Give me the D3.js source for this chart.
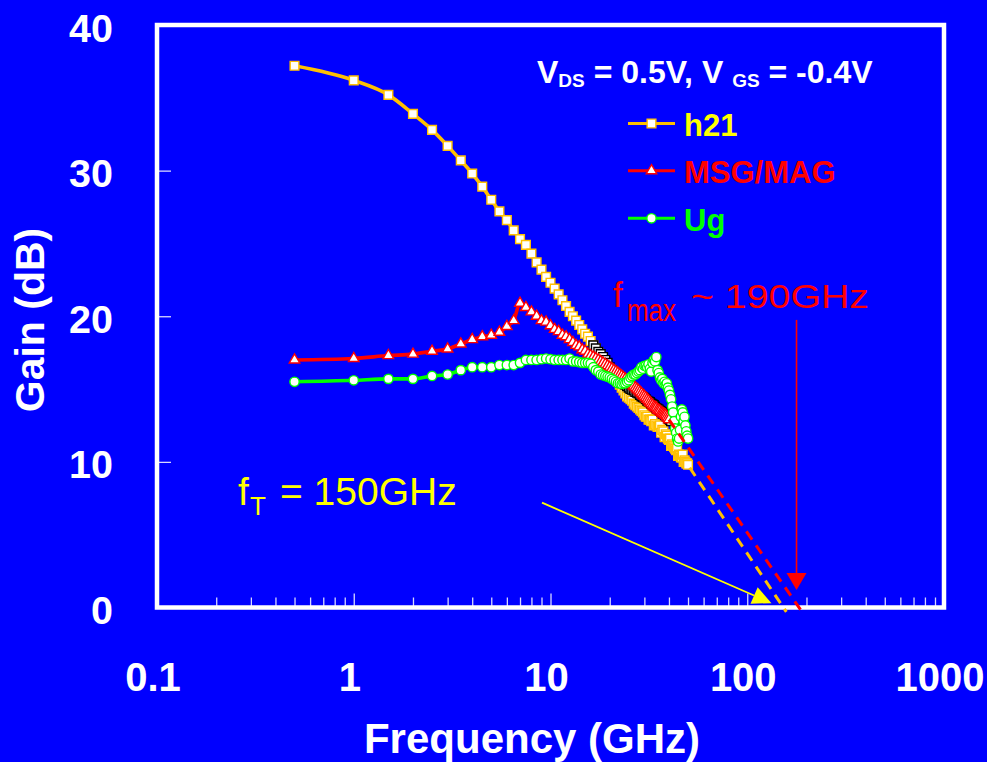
<!DOCTYPE html>
<html>
<head>
<meta charset="utf-8">
<script src="https://cdn.jsdelivr.net/npm/d3@7"></script>
<style>
  html, body { margin: 0; padding: 0; background: #0000ff; overflow: hidden; }
  svg { display: block; }
  text { font-family: "Liberation Sans", Arial, Helvetica, sans-serif; }
</style>
</head>
<body>
<svg id="chart" width="987" height="762"></svg>
<script>
// ---- measured data: frequency sweep 0.5 – 50 GHz in 0.5 GHz steps ----
const freqGHz = [
  0.5, 1, 1.5, 2, 2.5, 3, 3.5, 4, 4.5, 5,
  5.5, 6, 6.5, 7, 7.5, 8, 8.5, 9, 9.5, 10,
  10.5, 11, 11.5, 12, 12.5, 13, 13.5, 14, 14.5, 15,
  15.5, 16, 16.5, 17, 17.5, 18, 18.5, 19, 19.5, 20,
  20.5, 21, 21.5, 22, 22.5, 23, 23.5, 24, 24.5, 25,
  25.5, 26, 26.5, 27, 27.5, 28, 28.5, 29, 29.5, 30,
  30.5, 31, 31.5, 32, 32.5, 33, 33.5, 34, 34.5, 35,
  35.5, 36, 36.5, 37, 37.5, 38, 38.5, 39, 39.5, 40,
  40.5, 41, 41.5, 42, 42.5, 43, 43.5, 44, 44.5, 45,
  45.5, 46, 46.5, 47, 47.5, 48, 48.5, 49, 49.5, 50
];

// |h21| current gain (dB)
const h21Gain = [
  37.2, 36.2, 35.2, 33.9, 32.8, 31.7, 30.7, 29.8, 28.9, 28.0,
  27.2, 26.6, 25.9, 25.3, 24.9, 24.3, 23.7, 23.2, 22.7, 22.3,
  21.9, 21.5, 21.1, 20.7, 20.3, 20.0, 19.7, 19.4, 19.1, 18.8,
  18.6, 18.3, 18.0, 17.8, 17.5, 17.2, 17.0, 16.7, 16.5, 16.3,
  16.1, 15.9, 15.7, 15.5, 15.3, 15.1, 14.9, 14.7, 14.5, 14.4,
  14.3, 14.2, 14.0, 13.9, 13.8, 13.7, 13.6, 13.5, 13.4, 13.2,
  13.1, 13.1, 12.9, 12.9, 12.8, 12.9, 12.5, 12.6, 12.5, 12.4,
  12.4, 12.5, 12.0, 12.2, 12.1, 11.7, 11.9, 11.8, 11.6, 11.5,
  11.6, 11.1, 11.2, 11.1, 11.0, 10.9, 10.8, 10.9, 10.4, 10.5,
  10.4, 10.3, 10.3, 10.5, 10.0, 10.1, 10.0, 9.9, 9.9, 9.8
];

// MSG / MAG (dB), 0.5 – 40 GHz
const msgGain = [
  17.0, 17.1, 17.3, 17.4, 17.6, 17.75, 18.1, 18.4, 18.6, 18.7,
  18.9, 19.3, 19.7, 20.9, 20.6, 20.3, 20.0, 19.7, 19.6, 19.35,
  19.1, 18.95, 18.7, 18.6, 18.4, 18.2, 18.0, 17.9, 17.7, 17.6,
  17.4, 17.3, 17.2, 17.1, 17.0, 16.9, 16.8, 16.7, 16.6, 16.5,
  16.4, 16.3, 16.2, 16.1, 16.0, 15.9, 15.8, 15.7, 15.6, 15.5,
  15.4, 15.3, 15.2, 15.1, 15.0, 14.9, 14.8, 14.7, 14.6, 14.5,
  14.4, 14.3, 14.2, 14.1, 14.0, 13.9, 13.8, 13.75, 13.7, 13.6,
  13.55, 13.5, 13.4, 13.35, 13.3, 13.25, 13.2, 13.1, 13.0, 12.9
];

// Unilateral gain Ug (dB)
const ugGain = [
  15.5, 15.6, 15.7, 15.7, 15.9, 16.0, 16.3, 16.5, 16.5, 16.5,
  16.65, 16.65, 16.65, 16.8, 17.0, 17.0, 17.0, 17.05, 17.1, 17.05,
  17.0, 17.0, 17.0, 17.0, 17.1, 16.9, 16.9, 16.85, 16.8, 16.8,
  16.8, 16.75, 16.5, 16.3, 16.2, 16.0, 15.95, 15.9, 15.85, 15.8,
  15.7, 15.6, 15.5, 15.4, 15.4, 15.35, 15.4, 15.4, 15.5, 15.6,
  15.8, 15.9, 16.0, 16.0, 16.1, 16.2, 16.3, 16.5, 16.4, 16.6,
  16.6, 16.5, 16.7, 16.4, 16.2, 16.8, 17.0, 16.9, 17.2, 16.3,
  16.1, 15.8, 15.6, 15.7, 15.4, 15.5, 15.3, 15.4, 15.1, 14.9,
  14.6, 14.3, 13.8, 13.4, 12.8, 12.3, 12.0, 11.6, 11.4, 11.6,
  12.2, 13.1, 13.6, 13.4, 12.8, 13.1, 12.5, 12.1, 11.8, 11.6
];

// second gain trace (black-edged markers), 16.5 – 41 GHz
const auxStartGHz = 16.5;
const auxGain = [
  18.0, 17.8, 17.55, 17.4, 17.2, 17.0, 16.8, 16.5, 16.3, 16.1,
  16.0, 15.8, 15.7, 15.55, 15.4, 15.3, 15.2, 15.1, 15.0, 14.95,
  14.9, 14.8, 14.75, 14.7, 14.6, 14.5, 14.45, 14.4, 14.3, 14.2,
  14.15, 14.1, 14.0, 13.95, 13.9, 13.8, 13.7, 13.65, 13.6, 13.5,
  13.45, 13.4, 13.3, 13.25, 13.2, 13.1, 13.0, 12.95, 12.9, 12.8
];

// -20 dB/dec extrapolations to 0 dB (freq GHz, gain dB)
const ftExtrapFreq = [51, 158];
const ftExtrapGain = [9.6, -0.3];
const fmaxExtrapFreq = [40, 190];
const fmaxExtrapGain = [12.9, -0.3];

// annotation arrows (freq GHz, gain dB)
const ftArrowFreq = [9.05, 132.8];
const ftArrowGain = [7.2, 0.3];
const fmaxArrowFreq = [178, 178];
const fmaxArrowGain = [19.75, 1.2];

// axes
const xTickValues = [0.1, 1, 10, 100, 1000];
const xTickLabels = ["0.1", "1", "10", "100", "1000"];
const yTickValues = [0, 10, 20, 30, 40];
const yTickLabels = ["0", "10", "20", "30", "40"];

const legendNames = ["h21", "MSG/MAG", "Ug"];

// ---- drawing ----
const W = 987, H = 762;
const plotLeft = 157, plotRight = 944, plotTop = 25, plotBottom = 607.5;

const COL_H21 = "#ffc000", COL_H21_TEXT = "#ffff00";
const COL_MSG = "#ff0000";
const COL_UG = "#00ff00";

const svg = d3.select("#chart");
svg.append("rect").attr("width", W).attr("height", H).attr("fill", "#0000ff");

const x = d3.scaleLog().domain([0.1, 1000]).range([plotLeft, plotRight]);
const y = d3.scaleLinear().domain([0, 40]).range([plotBottom, plotTop]);

// minor ticks along the bottom (pointing up, inside the frame)
const minorTicks = x.ticks().filter(t => !xTickValues.some(v => Math.abs(t / v - 1) < 1e-6));
svg.append("g")
  .attr("transform", `translate(0,${plotBottom})`)
  .call(d3.axisTop(x).tickValues(minorTicks).tickSize(10).tickFormat(""))
  .call(g => g.select(".domain").remove())
  .call(g => g.selectAll("line").attr("stroke", "#d8d8ff").attr("stroke-width", 1.3));
svg.append("g")
  .attr("transform", `translate(0,${plotBottom})`)
  .call(d3.axisTop(x).tickValues(xTickValues).tickSize(14).tickFormat(""))
  .call(g => g.select(".domain").remove())
  .call(g => g.selectAll("line").attr("stroke", "#d8d8ff").attr("stroke-width", 1.3));

// y ticks on the left edge (pointing right)
svg.append("g")
  .attr("transform", `translate(${plotLeft},0)`)
  .call(d3.axisRight(y).tickValues(yTickValues).tickSize(14).tickFormat(""))
  .call(g => g.select(".domain").remove())
  .call(g => g.selectAll("line").attr("stroke", "#d8d8ff").attr("stroke-width", 1.3));

// frame
svg.append("rect")
  .attr("x", plotLeft).attr("y", plotTop)
  .attr("width", plotRight - plotLeft).attr("height", plotBottom - plotTop)
  .attr("fill", "none").attr("stroke", "#ffffff").attr("stroke-width", 4.5);

// tick labels
svg.append("g").selectAll("text").data(xTickValues).join("text")
  .attr("x", d => x(d) - 4).attr("y", 691)
  .attr("text-anchor", "middle").attr("fill", "#fff")
  .attr("font-size", 40).attr("font-weight", "bold")
  .text((d, i) => xTickLabels[i]);

svg.append("g").selectAll("text").data(yTickValues).join("text")
  .attr("x", 113).attr("y", d => y(d) + 16.5)
  .attr("text-anchor", "end").attr("fill", "#fff")
  .attr("font-size", 39.5).attr("font-weight", "bold")
  .text((d, i) => yTickLabels[i]);

// axis titles
svg.append("text").attr("x", 532).attr("y", 753)
  .attr("text-anchor", "middle").attr("fill", "#fff")
  .attr("font-size", 42).attr("font-weight", "bold")
  .text("Frequency (GHz)");
svg.append("text").attr("transform", "translate(44,320) rotate(-90)")
  .attr("text-anchor", "middle").attr("fill", "#fff")
  .attr("font-size", 41).attr("font-weight", "bold")
  .text("Gain (dB)");

// series
const h21Pts = h21Gain.map((g, i) => ({ f: freqGHz[i], g }));
const msgPts = msgGain.map((g, i) => ({ f: freqGHz[i], g }));
const ugPts = ugGain.map((g, i) => ({ f: freqGHz[i], g }));
const auxStart = freqGHz.indexOf(auxStartGHz);
const auxPts = auxGain.map((g, i) => ({ f: freqGHz[auxStart + i], g }));

const line = d3.line().x(d => x(d.f)).y(d => y(d.g)).curve(d3.curveMonotoneX);

const symSquare = d3.symbol().type(d3.symbolSquare).size(76);
const symTri = d3.symbol().type(d3.symbolTriangle).size(48);
const symCircle = d3.symbol().type(d3.symbolCircle).size(68);

function drawSeries(pts, color, sym, withLine) {
  const g = svg.append("g");
  if (withLine) {
    g.append("path").attr("d", line(pts))
      .attr("fill", "none").attr("stroke", color).attr("stroke-width", 3.6)
      .attr("stroke-linejoin", "round");
  }
  g.selectAll("path.m").data(pts).join("path").attr("class", "m")
    .attr("transform", d => `translate(${x(d.f)},${y(d.g)})`)
    .attr("d", sym())
    .attr("fill", "#ffffff").attr("stroke", color).attr("stroke-width", 1.4);
}

drawSeries(h21Pts, COL_H21, symSquare, true);
drawSeries(auxPts, "#000000", symSquare, false);
drawSeries(msgPts, COL_MSG, symTri, true);
drawSeries(ugPts, COL_UG, symCircle, true);

// extrapolation dashes
function dashed(fs, gs, color) {
  svg.append("line")
    .attr("x1", x(fs[0])).attr("y1", y(gs[0]))
    .attr("x2", x(fs[1])).attr("y2", y(gs[1]))
    .attr("stroke", color).attr("stroke-width", 3)
    .attr("stroke-dasharray", "10,7");
}
dashed(ftExtrapFreq, ftExtrapGain, COL_H21);
dashed(fmaxExtrapFreq, fmaxExtrapGain, COL_MSG);

// arrows
function arrow(fs, gs, color, width, headLen, headHalf) {
  const x0 = x(fs[0]), y0 = y(gs[0]), x1 = x(fs[1]), y1 = y(gs[1]);
  const dx = x1 - x0, dy = y1 - y0, L = Math.hypot(dx, dy);
  const ux = dx / L, uy = dy / L;
  const bx = x1 - ux * headLen, by = y1 - uy * headLen;
  svg.append("line").attr("x1", x0).attr("y1", y0).attr("x2", bx).attr("y2", by)
    .attr("stroke", color).attr("stroke-width", width);
  svg.append("polygon")
    .attr("points", [[x1, y1], [bx - uy * headHalf, by + ux * headHalf], [bx + uy * headHalf, by - ux * headHalf]].map(p => p.join(",")).join(" "))
    .attr("fill", color);
}
arrow(ftArrowFreq, ftArrowGain, "#ffff00", 1.8, 19, 9);
arrow(fmaxArrowFreq, fmaxArrowGain, COL_MSG, 1.6, 17, 10);

// annotation texts
svg.append("text").attr("x", 238).attr("y", 505).attr("fill", "#ffff00")
  .attr("font-size", 39).text("f");
svg.append("text").attr("x", 250).attr("y", 515).attr("fill", "#ffff00")
  .attr("font-size", 26).text("T");
svg.append("text").attr("x", 280).attr("y", 505).attr("fill", "#ffff00")
  .attr("font-size", 39).text("= 150GHz");

svg.append("text").attr("x", 613).attr("y", 306.5).attr("fill", COL_MSG)
  .attr("font-size", 35).text("f");
svg.append("text").attr("x", 627).attr("y", 321).attr("fill", COL_MSG)
  .attr("font-size", 31).attr("textLength", 49).attr("lengthAdjust", "spacingAndGlyphs").text("max");
svg.append("text").attr("x", 691).attr("y", 307.5).attr("fill", COL_MSG)
  .attr("font-size", 34).attr("textLength", 178).attr("lengthAdjust", "spacingAndGlyphs").text("~ 190GHz");

// bias condition
const bias = svg.append("text").attr("x", 537).attr("y", 83)
  .attr("fill", "#fff").attr("font-weight", "bold").attr("font-size", 32);
bias.append("tspan").text("V");
bias.append("tspan").attr("font-size", 19).attr("dy", 4).text("DS");
bias.append("tspan").attr("dy", -4).text(" = 0.5V, V ");
bias.append("tspan").attr("font-size", 19).attr("dy", 4).text("GS");
bias.append("tspan").attr("dy", -4).text(" = -0.4V");

// legend
const legendRows = [
  { name: legendNames[0], color: COL_H21, text: COL_H21_TEXT, sym: symSquare, y: 123.5 },
  { name: legendNames[1], color: COL_MSG, text: COL_MSG, sym: symTri, y: 170.7 },
  { name: legendNames[2], color: COL_UG, text: COL_UG, sym: symCircle, y: 218.3 }
];
const lg = svg.append("g");
legendRows.forEach(r => {
  lg.append("line").attr("x1", 628).attr("x2", 675).attr("y1", r.y).attr("y2", r.y)
    .attr("stroke", r.color).attr("stroke-width", 3);
  lg.append("path").attr("transform", `translate(651.5,${r.y})`).attr("d", r.sym())
    .attr("fill", "#fff").attr("stroke", r.color).attr("stroke-width", 1.4);
  lg.append("text").attr("x", 684).attr("y", r.y + 12.5)
    .attr("fill", r.text).attr("font-weight", "bold").attr("font-size", 31)
    .text(r.name);
});
</script>
</body>
</html>
